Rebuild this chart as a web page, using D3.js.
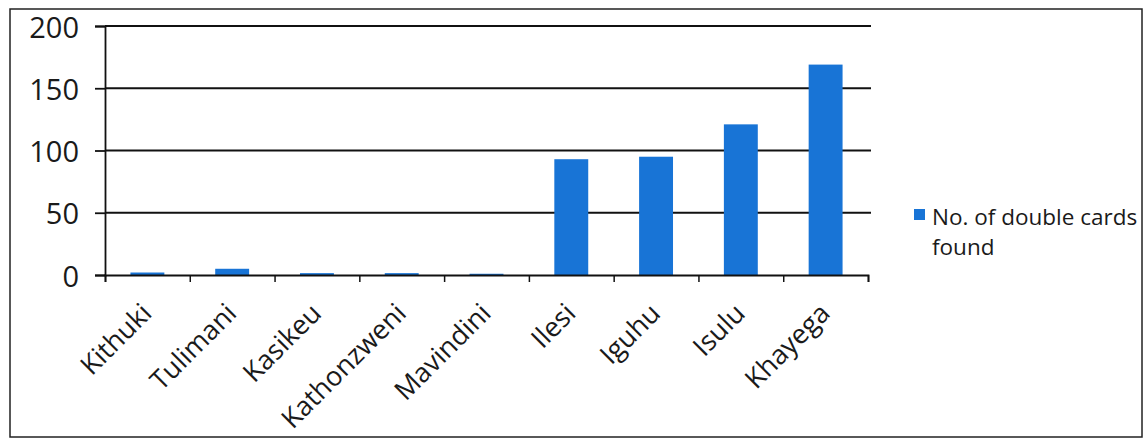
<!DOCTYPE html>
<html><head><meta charset="utf-8">
<script src="https://cdn.jsdelivr.net/npm/d3@7"></script>
<style>body{margin:0;background:#fff}svg{display:block}text{font-family:"Open Sans",sans-serif;fill:#1a1a1a}</style>
</head><body><svg id="c" width="1144" height="441"></svg>
<script>
const categories = ["Kithuki","Tulimani","Kasikeu","Kathonzweni","Mavindini","Ilesi","Iguhu","Isulu","Khayega"];
const values = [2, 5, 1.5, 1.5, 1, 93, 95, 121, 169];
const yTicks = [0, 50, 100, 150, 200];
const seriesName = ["No. of double cards", "found"];

const svg = d3.select("#c");
const L = 105, R = 868, T = 26, B = 275;
svg.append("rect").attr("x",10).attr("y",9).attr("width",1132).attr("height",428)
  .attr("fill","none").attr("stroke","#222").attr("stroke-width",1.5);

const x = d3.scaleBand().domain(categories).range([L,R]).paddingInner(0.6).paddingOuter(0.3);
const y = d3.scaleLinear().domain([0,200]).range([B,T]);

// gridlines
svg.append("g").selectAll("line").data(yTicks.filter(d=>d>0)).join("line")
  .attr("x1",L).attr("x2",R+3).attr("y1",d=>y(d)).attr("y2",d=>y(d))
  .attr("stroke","#111").attr("stroke-width",1.8);

// bars
svg.append("g").selectAll("rect").data(values).join("rect")
  .attr("x",(d,i)=>x(categories[i])).attr("width",x.bandwidth())
  .attr("y",d=>y(d)).attr("height",d=>B-y(d)).attr("fill","#1874d6");

// y axis
const ya = svg.append("g").attr("transform",`translate(${L},0)`)
  .call(d3.axisLeft(y).tickValues(yTicks).tickSize(10).tickPadding(16));
ya.select(".domain").attr("stroke","#111").attr("stroke-width",1.8);
ya.selectAll(".tick line").attr("stroke","#111").attr("stroke-width",1.8);
ya.selectAll("text").attr("font-size",29).attr("font-family","Open Sans").attr("fill","#1a1a1a").attr("dy","0.38em");

// x axis
const xs = d3.scalePoint().domain(d3.range(categories.length+1)).range([L,R]);
const xa = svg.append("g").attr("transform",`translate(0,${B})`)
  .call(d3.axisBottom(xs).tickSize(7).tickFormat(""));
xa.select(".domain").attr("stroke","#111").attr("stroke-width",1.8);
xa.selectAll(".tick line").attr("stroke","#111").attr("stroke-width",1.5);

svg.append("g").selectAll("text").data(categories).join("text")
  .attr("transform",d=>`translate(${x(d)+x.bandwidth()/2+6},${B+40}) rotate(-45)`)
  .attr("text-anchor","end").attr("font-size",27).text(d=>d);

// legend
svg.append("rect").attr("x",914).attr("y",209).attr("width",11).attr("height",11).attr("fill","#1874d6");
svg.append("text").attr("x",932).attr("y",225).attr("font-size",22.5).text(seriesName[0]);
svg.append("text").attr("x",932).attr("y",255).attr("font-size",22.5).text(seriesName[1]);
</script></body></html>
